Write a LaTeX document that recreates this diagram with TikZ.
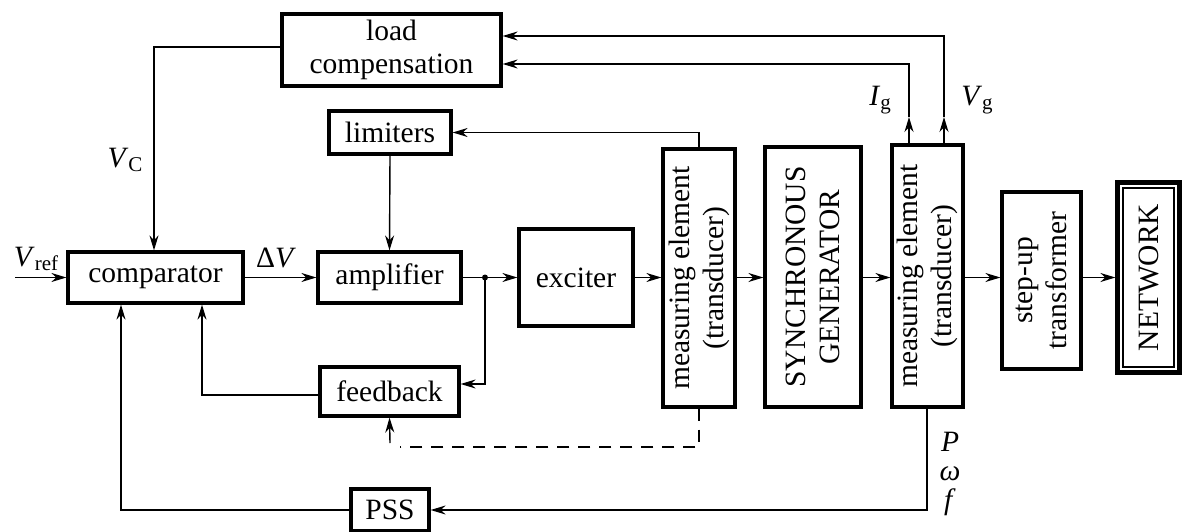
\documentclass[tikz,border=0pt]{standalone}
\usepackage{fontspec}
\setmainfont{Liberation Serif}
\usetikzlibrary{arrows.meta}
\newcommand\lowsub[1]{\raisebox{-0.35ex}{\fontsize{21}{21}\selectfont #1}}
\begin{document}
\begin{tikzpicture}[x=1pt,y=-1pt,
  box/.style={draw, line width=3.2pt, inner sep=0pt, align=center, font=\fontsize{29.5}{33}\selectfont},
  txt/.style={font=\fontsize{29.5}{34}\selectfont, align=center, inner sep=0pt},
  wire/.style={line width=1.4pt},
  arr/.style={wire, -{Stealth[length=15pt,width=9pt]}},
]
\useasboundingbox (0,0) rectangle (1182,532);

% blocks
\node[box, minimum width=175, minimum height=51] (comp) at (155.5,277.5) {comparator};
\node[box, minimum width=143, minimum height=51] (amp) at (389.5,277.5) {amplifier};
\node[box, minimum width=114, minimum height=97] (exc) at (576,277.5) {exciter};
\node[box, minimum width=72, minimum height=258] (meas1) at (699,278) {};
\node[txt, rotate=90] (meas1t) at (meas1) {measuring element\\(transducer)};
\node[box, minimum width=96, minimum height=260] (sg) at (813,277) {};
\node[txt, rotate=90] (sgt) at (sg) {SYNCHRONOUS\\GENERATOR};
\node[box, minimum width=71, minimum height=262] (meas2) at (927.5,276) {};
\node[txt, rotate=90] (meas2t) at (meas2) {measuring element\\(transducer)};
\node[box, minimum width=79, minimum height=177] (stepup) at (1041.5,280.5) {};
\node[txt, rotate=90] (stepupt) at (stepup) {step-up\\transformer};
\node[box, minimum width=63, minimum height=191] (network) at (1148.5,277.5) {};
\node[txt, rotate=90] (networkt) at (network) {NETWORK};
\draw[line width=0.8pt] ([shift={(4,4)}]network.north west) rectangle ([shift={(-4,-4)}]network.south east);
\draw[line width=2.6pt] ([shift={(7.5,7.5)}]network.north west) rectangle ([shift={(-7.5,-7.5)}]network.south east);

\node[box, minimum width=219, minimum height=72] (loadcomp) at (391.5,50) {load\\compensation};
\node[box, minimum width=122, minimum height=43] (limiters) at (390,132.5) {limiters};
\node[box, minimum width=139, minimum height=49] (feedback) at (389.5,391.5) {feedback};
\node[box, minimum width=78, minimum height=42] (pss) at (390,510) {PSS};

% coordinates
\coordinate (vrefin) at (15,277.5);
\coordinate (jn) at (485,277.5);
\coordinate (igtip) at (909,117);
\coordinate (vgtip) at (944,117);
\coordinate (vcx) at (154,47);
\coordinate (fbx) at (202,395);
\coordinate (pssx) at (121,510);
\coordinate (dashc) at (699,447);
\coordinate (dashend) at (400,447);
\coordinate (fbin) at (390,443);

% main chain
\draw[arr] (vrefin) -- (comp.west);
\draw[arr] (comp.east) -- (amp.west);
\draw[wire] (amp.east) -- (jn);
\draw[arr] (jn) -- (exc.west);
\fill (jn) circle (3pt);
\draw[arr] (exc.east) -- (exc.east -| meas1.west);
\draw[arr] (meas1.east |- comp.east) -- (sg.west |- comp.east);
\draw[arr] (sg.east |- comp.east) -- (meas2.west |- comp.east);
\draw[arr] (meas2.east |- comp.east) -- (stepup.west |- comp.east);
\draw[arr] (stepup.east |- comp.east) -- (network.west |- comp.east);

% top connections
\draw[arr] (meas1.north) |- (limiters.east);
\draw[arr] (limiters.south) -- (amp.north);
\draw[arr] (meas2.north -| igtip) -- (igtip);
\draw[arr] (igtip) |- (loadcomp.east |- 0,64);
\draw[arr] (meas2.north -| vgtip) -- (vgtip);
\draw[arr] (vgtip) |- (loadcomp.east |- 0,36);
\draw[arr] (loadcomp.west |- vcx) -| (comp.north -| vcx);

% feedback
\draw[arr] (jn) |- (feedback.east |- 0,384);
\draw[arr] (feedback.west |- fbx) -| (comp.south -| fbx);
\draw[wire, dashed, dash pattern=on 12pt off 9pt] (meas1.south) -- (dashc) -- (dashend);
\draw[arr] (fbin) -- (feedback.south);

% PSS
\draw[arr] (meas2.south -| 927,0) |- (pss.east);
\draw[arr] (pss.west) -| (comp.south -| pssx);

% labels
\node[txt] (vref) at (36,259) {\textit{V}\lowsub{ref}};
\node[txt] (dv) at (276,258) {Δ\textit{V}};
\node[txt] (vc) at (125,160) {\textit{V}\lowsub{C}};
\node[txt] (ig) at (880,100) {\textit{I}\lowsub{g}};
\node[txt] (vg) at (977,100) {\textit{V}\lowsub{g}};
\node[txt, font=\fontsize{29.5}{29}\selectfont] (pwf) at (950,474) {\textit{P}\\\textit{ω}\\\textit{f}};
\end{tikzpicture}
\end{document}
